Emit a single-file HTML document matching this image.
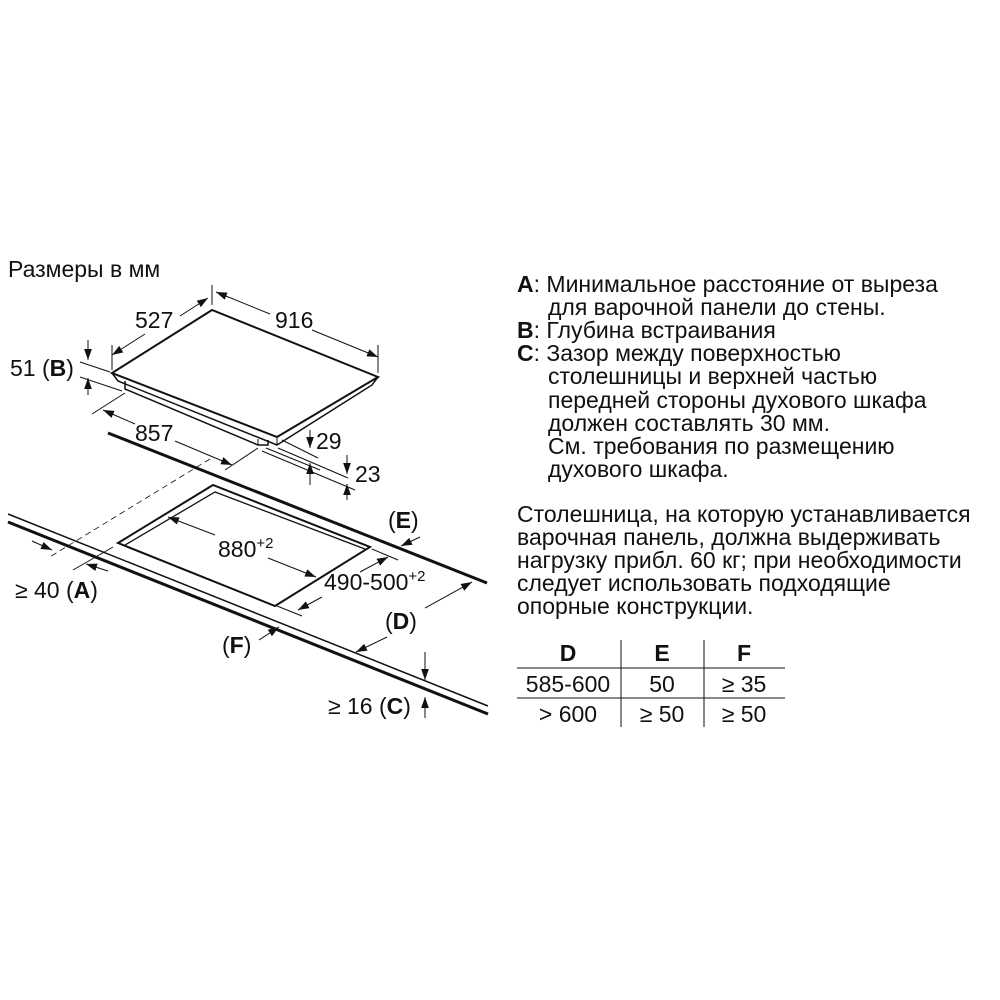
<!DOCTYPE html>
<html><head><meta charset="utf-8"><style>
html,body{margin:0;padding:0;background:#fff}
svg{display:block}
text{font-family:"Liberation Sans",Arial,sans-serif;fill:#111}
</style></head><body>
<svg width="1000" height="1000" viewBox="0 0 1000 1000" xmlns="http://www.w3.org/2000/svg">
<defs>
<marker id="a" viewBox="0 0 10 10" refX="10" refY="5" markerWidth="11" markerHeight="11" markerUnits="userSpaceOnUse" orient="auto"><path d="M0,1.5 L10,5 L0,8.5 z" fill="#111"/></marker>
</defs>
<g stroke="#111" fill="none" stroke-width="1">
<path d="M112,373 L212,310 L378,377 L277,437 Z" stroke-width="2"/>
<path d="M112,373 L118,381 L277,445 L372,385 L378,377" stroke-width="1.5"/>
<path d="M277,437 L277,445" />
<path d="M125,381 L125,389 L258,445 L268,445 L268,440" stroke-width="1.5"/>
<path d="M258,445 L258,439" />
<path d="M112,345 L112,370"/><path d="M212,285 L212,305"/><path d="M378,345 L378,373"/>
<path d="M145,334 L112,355" marker-end="url(#a)"/><path d="M180,316 L208,298" marker-end="url(#a)"/>
<path d="M270,314 L216,292" marker-end="url(#a)"/><path d="M312,330 L378,357" marker-end="url(#a)"/>
<path d="M80,362 L110,372"/><path d="M80,377 L122,391"/>
<path d="M88,340 L88,360" marker-end="url(#a)"/><path d="M88,395 L88,378" marker-end="url(#a)"/>
<path d="M92,414 L125,393"/><path d="M225,470 L258,448"/>
<path d="M135,424 L103,410" marker-end="url(#a)"/><path d="M175,441 L232,465" marker-end="url(#a)"/>
<path d="M282,440 L318,458"/><path d="M266,448 L320,470"/><path d="M278,448 L348,478"/><path d="M262,451 L355,490"/>
<path d="M310,430 L310,448" marker-end="url(#a)"/><path d="M310,485 L310,463" marker-end="url(#a)"/>
<path d="M347,455 L347,474" marker-end="url(#a)"/><path d="M347,500 L347,484" marker-end="url(#a)"/>
<path d="M108,433 L487,583" stroke-width="3"/>
<path d="M8,514 L488,706" stroke-width="1.5"/>
<path d="M8,522 L488,714" stroke-width="3"/>
<path d="M210,459 L48,558" stroke-dasharray="6,4" stroke-width="0.8"/>
<path d="M118,543 L213,485 L370,547 L275,606 Z" stroke-width="2"/>
<path d="M125,545 L215,492 L365,549" stroke-width="1.3"/>
<path d="M73,570 L113,547"/>
<path d="M32,541 L52,550" marker-end="url(#a)"/><path d="M108,571 L86,564" marker-end="url(#a)"/>
<path d="M215,535 L168,517" marker-end="url(#a)"/><path d="M268,558 L316,577" marker-end="url(#a)"/>
<path d="M372,549 L398,560"/><path d="M277,606 L302,616"/>
<path d="M360,572 L388,557" marker-end="url(#a)"/><path d="M322,597 L298,610" marker-end="url(#a)"/>
<path d="M420,537 L401,546" marker-end="url(#a)"/>
<path d="M425,608 L472,582" marker-end="url(#a)"/><path d="M387,637 L356,652" marker-end="url(#a)"/>
<path d="M259,640 L279,627" marker-end="url(#a)"/>
<path d="M425,652 L425,680" marker-end="url(#a)"/><path d="M425,718 L425,697" marker-end="url(#a)"/>
<path d="M517,668 L785,668"/><path d="M517,698 L785,698"/>
<path d="M621,640 L621,727"/><path d="M704,640 L704,727"/>
</g>
<g font-size="23">
<text x="8" y="277">Размеры в мм</text>
<text x="135" y="328">527</text>
<text x="275" y="328">916</text>
<text x="10" y="376">51 (<tspan font-weight="bold">B</tspan>)</text>
<text x="135" y="441">857</text>
<text x="316" y="449">29</text>
<text x="355" y="482">23</text>
<text x="388" y="528">(<tspan font-weight="bold">E</tspan>)</text>
<text x="218" y="557">880<tspan font-size="15" dy="-9">+2</tspan></text>
<text x="324" y="590">490-500<tspan font-size="15" dy="-9">+2</tspan></text>
<text x="15" y="598">≥ 40 (<tspan font-weight="bold">A</tspan>)</text>
<text x="385" y="629">(<tspan font-weight="bold">D</tspan>)</text>
<text x="222" y="653">(<tspan font-weight="bold">F</tspan>)</text>
<text x="328" y="714">≥ 16 (<tspan font-weight="bold">C</tspan>)</text>
</g>
<g font-size="23">
<text x="517" y="292"><tspan font-weight="bold">A</tspan>: Минимальное расстояние от выреза</text>
<text x="548" y="315">для варочной панели до стены.</text>
<text x="517" y="338"><tspan font-weight="bold">B</tspan>: Глубина встраивания</text>
<text x="517" y="361"><tspan font-weight="bold">C</tspan>: Зазор между поверхностью</text>
<text x="548" y="384">столешницы и верхней частью</text>
<text x="548" y="408">передней стороны духового шкафа</text>
<text x="548" y="431">должен составлять 30 мм.</text>
<text x="548" y="454">См. требования по размещению</text>
<text x="548" y="477">духового шкафа.</text>
<text x="517" y="522">Столешница, на которую устанавливается</text>
<text x="517" y="545">варочная панель, должна выдерживать</text>
<text x="517" y="568">нагрузку прибл. 60 кг; при необходимости</text>
<text x="517" y="591">следует использовать подходящие</text>
<text x="517" y="614">опорные конструкции.</text>
</g>
<g font-size="23" text-anchor="middle">
<text x="568" y="661" font-weight="bold">D</text>
<text x="662" y="661" font-weight="bold">E</text>
<text x="744" y="661" font-weight="bold">F</text>
<text x="568" y="692">585-600</text>
<text x="662" y="692">50</text>
<text x="744" y="692">≥ 35</text>
<text x="568" y="722">&gt; 600</text>
<text x="662" y="722">≥ 50</text>
<text x="744" y="722">≥ 50</text>
</g>
</svg>
</body></html>
